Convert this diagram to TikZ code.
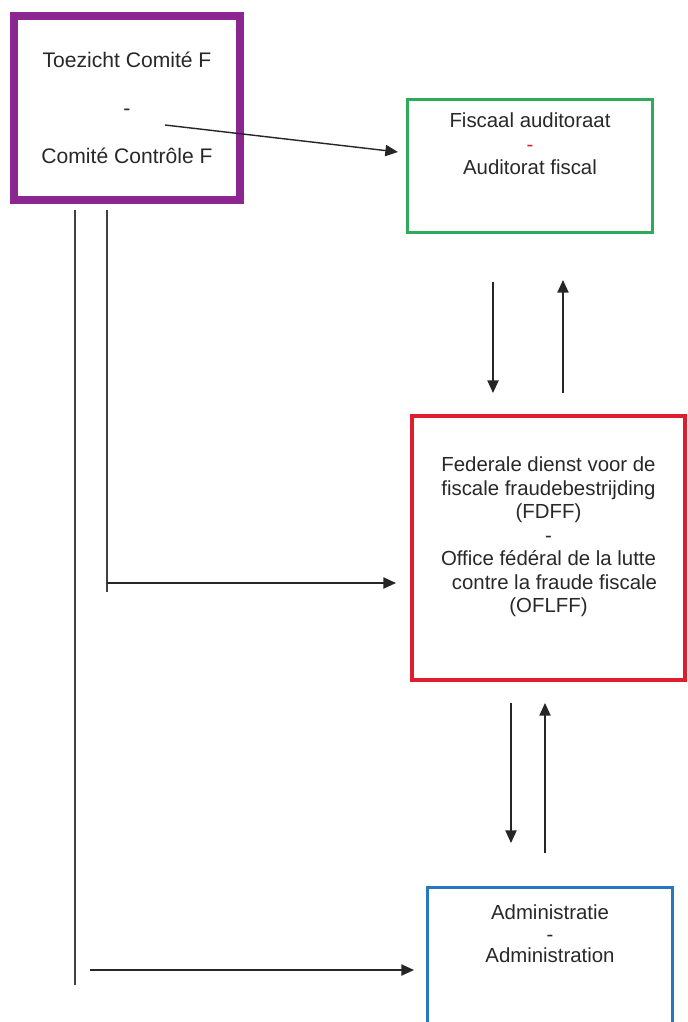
\documentclass[tikz,border=0pt]{standalone}
\usepackage{fontspec}
\setmainfont{Liberation Sans}
\usetikzlibrary{positioning,arrows.meta}
\definecolor{purpleF}{RGB}{140,38,145}
\definecolor{greenF}{RGB}{46,170,90}
\definecolor{redF}{RGB}{222,30,45}
\definecolor{blueF}{RGB}{40,120,190}
\definecolor{textF}{RGB}{40,40,40}
\tikzset{
	box/.style= {
		draw, rectangle,
		inner sep=0, outer sep=0,
		fill=white
	},
	txt/.style={align=center, text=textF, inner sep=0,
		font=\fontsize{14.5}{16.7}\selectfont},
	link/.style={draw=black!85, line width=1pt,
		-{Triangle[length=9pt,width=8pt]}},
	wire/.style={draw=black!75, line width=1pt}
}

\begin{document}
\begin{tikzpicture}[x=0.025cm,y=-0.025cm] % one unit = one pixel
\useasboundingbox (0,0) rectangle (688,1022);
\clip (0,0) rectangle (688,1022);

% boxes
\node[box, draw=purpleF, line width=0.2cm, minimum width=5.65cm, minimum height=4.6cm,
	align=center, text=textF, font=\fontsize{15}{34}\selectfont]
	(comite) at (127,108) {Toezicht Comité F\\-\\Comité Contrôle F};
\node[box, draw=greenF, line width=0.075cm, minimum width=6.125cm, minimum height=3.325cm]
	(auditoraat) at (530,166) {};
\node[box, draw=redF, line width=0.1cm, minimum width=6.825cm, minimum height=6.6cm]
	(fdff) at (548.5,548) {};
\node[box, draw=blueF, line width=0.075cm, minimum width=6.1cm, minimum height=3.55cm]
	(admin) at (550,959) {};

% texts
\node[txt, below=0.33cm of auditoraat.north] (auditoraatTxt)
	{Fiscaal auditoraat\\{\color{redF}-}\\Auditorat fiscal};
\node[txt, below=1.02cm of fdff.north] (fdffTxt)
	{Federale dienst voor de\\fiscale fraudebestrijding\\(FDFF)\\-\\Office fédéral de la lutte\\
	\hspace*{0.3cm}contre la fraude fiscale\\(OFLFF)};
\node[txt, font=\fontsize{14.5}{15.2}\selectfont, below=0.42cm of admin.north] (adminTxt)
	{Administratie\\-\\Administration};

% connector ends
\coordinate (cA) at (165,125);  \coordinate (aA) at (398,152);
\coordinate (aD1) at (493,282); \coordinate (fD1) at (493,393);
\coordinate (fU1) at (563,393); \coordinate (aU1) at (563,280);
\coordinate (fD2) at (511,703); \coordinate (dD2) at (511,843);
\coordinate (dU2) at (545,853); \coordinate (fU2) at (545,703);
\coordinate (cL1) at (107,210); \coordinate (cM1) at (107,592);
\coordinate (cH1) at (107,583); \coordinate (fH1) at (396,583);
\coordinate (cL2) at (75,210);  \coordinate (cM2) at (75,985);
\coordinate (cH2) at (90,970);  \coordinate (dH2) at (414,970);

% connectors
\draw[link] (cA) -- (aA);
\draw[link] (aD1) -- (fD1);
\draw[link] (fU1) -- (aU1);
\draw[link] (fD2) -- (dD2);
\draw[link] (dU2) -- (fU2);
\draw[wire] (cL1) -- (cM1);
\draw[link] (cH1) -- (fH1);
\draw[wire] (cL2) -- (cM2);
\draw[link] (cH2) -- (dH2);
\end{tikzpicture}
\end{document}
